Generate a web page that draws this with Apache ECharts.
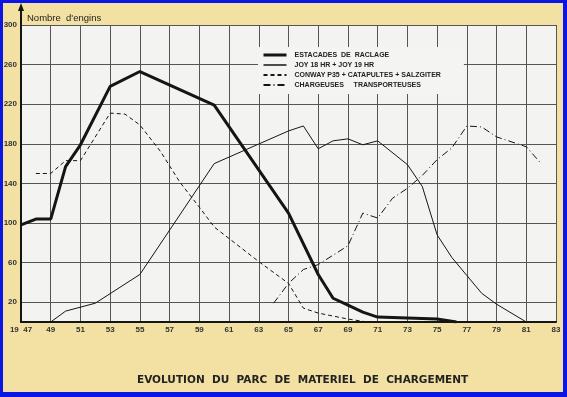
<!DOCTYPE html>
<html>
<head>
<meta charset="utf-8">
<script src="https://cdn.jsdelivr.net/npm/echarts@6/dist/echarts.min.js"></script>
<style>
	html, body { margin: 0; padding: 0; }
	#chart { width: 567px; height: 397px; }
</style>
</head>
<body>
<div id="chart"></div>
<script>
// y ticks / labels
var yTicks = [20, 60, 100, 140, 180, 220, 260, 300];

// ESTACADES DE RACLAGE
var estYears = [1947, 1948, 1949, 1950, 1951, 1953, 1955, 1960, 1965, 1967, 1968, 1969, 1970, 1971, 1973, 1975, 1976.3];
var estValues = [98, 104, 104, 157, 179, 238, 253, 219, 110, 48, 24, 17, 10, 5, 4, 3, 0];

// JOY 18 HR + JOY 19 HR
var joyYears = [1949, 1950, 1952, 1955, 1960, 1965, 1966, 1967, 1968, 1969, 1970, 1971, 1973, 1974, 1975, 1976, 1977, 1978, 1979, 1981];
var joyValues = [0, 11, 19, 48, 160, 193, 198, 175, 183, 185, 179, 183, 159, 137, 88, 65, 47, 29, 18, 0];

// CONWAY P35 + CATAPULTES + SALZGITER
var conYears = [1948, 1949, 1950, 1951, 1953, 1954, 1955, 1956.4, 1957.7, 1959, 1960, 1963, 1965, 1966, 1967, 1969, 1970.3];
var conValues = [150, 150, 163, 163, 211, 210, 199, 172, 141, 116, 96, 61, 39, 14, 9, 3, 0];

// CHARGEUSES TRANSPORTEUSES
var chaYears = [1964, 1965, 1966, 1967, 1969, 1970, 1971, 1972, 1973, 1974, 1975, 1976, 1977, 1978, 1979, 1981, 1982];
var chaValues = [19, 39, 53, 58, 77, 110, 105, 125, 135, 148, 164, 176, 198, 197, 187, 177, 160];

var names = ['ESTACADES  DE  RACLAGE', 'JOY 18 HR + JOY 19 HR', 'CONWAY P35 + CATAPULTES + SALZGITER', 'CHARGEUSES     TRANSPORTEUSES'];

function pairs(xs, ys) {
	var out = [];
	for (var i = 0; i < xs.length; i++) out.push([xs[i], ys[i]]);
	return out;
}

var ink = '#151515';
var lineSeries = function (name, xs, ys, width, type) {
	return {
		name: name,
		type: 'line',
		data: pairs(xs, ys),
		showSymbol: false,
		symbol: 'none',
		lineStyle: { color: ink, width: width, type: type },
		itemStyle: { color: ink },
		z: 3
	};
};

var chart = echarts.init(document.getElementById('chart'));
var option = {
	backgroundColor: '#f2e1a3',
	animation: false,
	title: [{
		text: "Nombre  d'engins",
		left: 27, top: 13,
		padding: 0,
		textStyle: { fontFamily: 'Liberation Sans', fontSize: 9.5, fontWeight: 'normal', color: '#222' }
	}, {
		text: 'EVOLUTION  DU  PARC  DE  MATERIEL  DE  CHARGEMENT',
		left: 137, top: 375,
		padding: 0,
		textStyle: { fontFamily: 'DejaVu Sans', fontSize: 10.5, fontWeight: 'bold', color: '#222' }
	}],
	legend: {
		orient: 'vertical',
		left: 258, top: 47,
		padding: [4, 23, 5, 4],
		itemWidth: 23, itemHeight: 10, itemGap: 2,
		backgroundColor: '#f4f4f2',
		itemStyle: { opacity: 0 },
		textStyle: { fontFamily: 'Liberation Sans', fontSize: 7, fontWeight: 'bold', color: '#222', padding: [0, 0, 0, 3] },
		data: [
			{ name: names[0], lineStyle: { width: 3 } },
			{ name: names[1], lineStyle: { width: 1.5 } },
			{ name: names[2] },
			{ name: names[3] }
		]
	},
	grid: {
		left: 21, right: 11, top: 25, bottom: 75,
		show: true, backgroundColor: '#f3f3f1', borderWidth: 0
	},
	xAxis: {
		type: 'value',
		min: 1947, max: 1983, interval: 2,
		axisLine: { show: true, onZero: false, lineStyle: { color: ink, width: 2 } },
		axisTick: { show: false },
		splitLine: { show: true, lineStyle: { color: '#555', width: 1 } },
		axisLabel: {
			margin: 4,
			fontFamily: 'Liberation Sans', fontSize: 8, fontWeight: 'bold', color: '#333',
			formatter: function (v) { return v === 1947 ? '19  47' : String(v).slice(2); }
		}
	},
	yAxis: {
		type: 'value',
		min: 0, max: 300,
		axisLine: { show: true, lineStyle: { color: ink, width: 2 } },
		axisTick: { show: false, customValues: yTicks },
		splitLine: { show: true, lineStyle: { color: '#555', width: 1 } },
		axisLabel: {
			customValues: yTicks,
			margin: 4,
			padding: [0, 0, 5, 0],
			fontFamily: 'Liberation Sans', fontSize: 8, fontWeight: 'bold', color: '#333'
		}
	},
	graphic: [
		{ type: 'line', shape: { x1: 21, y1: 25, x2: 21, y2: 8 }, style: { stroke: ink, lineWidth: 2 }, z: 10 },
		{ type: 'polygon', shape: { points: [[21, 3], [18, 11], [24, 11]] }, style: { fill: ink }, z: 10 },
		{ type: 'rect', shape: { x: 0, y: 0, width: 567, height: 3 }, style: { fill: '#0c16e4' }, z: 20 },
		{ type: 'rect', shape: { x: 0, y: 392, width: 567, height: 5 }, style: { fill: '#0c16e4' }, z: 20 },
		{ type: 'rect', shape: { x: 0, y: 0, width: 3, height: 397 }, style: { fill: '#0c16e4' }, z: 20 },
		{ type: 'rect', shape: { x: 563, y: 0, width: 4, height: 397 }, style: { fill: '#0c16e4' }, z: 20 }
	],
	series: [
		lineSeries(names[0], estYears, estValues, 3, 'solid'),
		lineSeries(names[1], joyYears, joyValues, 1, 'solid'),
		lineSeries(names[2], conYears, conValues, 1, [4, 3]),
		lineSeries(names[3], chaYears, chaValues, 1, [7, 3, 1, 3])
	]
};
chart.setOption(option);
</script>
</body>
</html>
